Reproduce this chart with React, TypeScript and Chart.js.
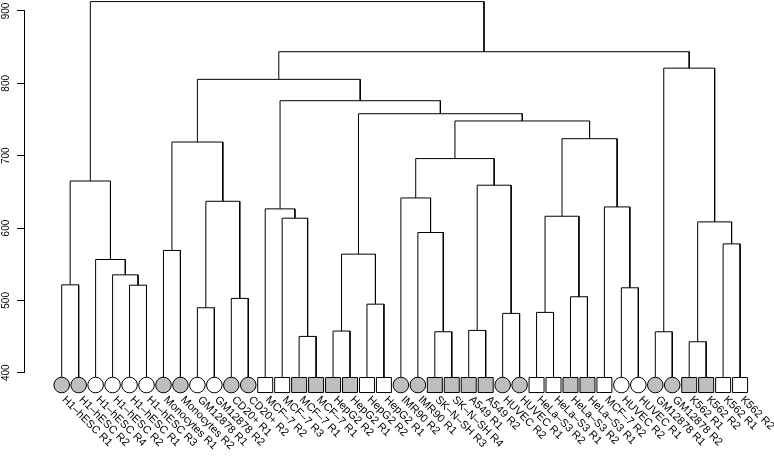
import React, { useEffect, useRef } from "react";
import { Chart, registerables } from "chart.js";

Chart.register(...registerables);

// Leaves in dendrogram order
const leafLabels = [
  "H1–hESC R1", "H1–hESC R2", "H1–hESC R4", "H1–hESC R2", "H1–hESC R1", "H1–hESC R3",
  "Monocytes R1", "Monocytes R2", "GM12878 R1", "GM12878 R2", "CD20+ R1", "CD20+ R2",
  "MCF–7 R2", "MCF–7 R3", "MCF–7 R1", "MCF–7 R1",
  "HepG2 R2", "HepG2 R1", "HepG2 R2", "HepG2 R1",
  "IMR90 R2", "IMR90 R1", "SK–N–SH R3", "SK–N–SH R4", "A549 R1", "A549 R2",
  "HUVEC R2", "HUVEC R1",
  "HeLa–S3 R2", "HeLa–S3 R1", "HeLa–S3 R2", "HeLa–S3 R1", "MCF–7 R2",
  "HUVEC R2", "HUVEC R1", "GM12878 R1", "GM12878 R2",
  "K562 R1", "K562 R2", "K562 R1", "K562 R2",
];
const leafShapes = [
  "circle", "circle", "circle", "circle", "circle", "circle",
  "circle", "circle", "circle", "circle", "circle", "circle",
  "rect", "rect", "rect", "rect",
  "rect", "rect", "rect", "rect",
  "circle", "circle", "rect", "rect", "rect", "rect",
  "circle", "circle",
  "rect", "rect", "rect", "rect", "rect",
  "circle", "circle", "circle", "circle",
  "rect", "rect", "rect", "rect",
];
const leafFills = [
  "gray", "gray", "white", "white", "white", "white",
  "gray", "gray", "white", "white", "gray", "gray",
  "white", "white", "gray", "gray",
  "gray", "gray", "white", "white",
  "gray", "gray", "gray", "gray", "gray", "gray",
  "gray", "gray",
  "white", "white", "gray", "gray", "white",
  "white", "white", "gray", "gray",
  "gray", "gray", "white", "white",
];

// hclust-style merges: negative = leaf (-(index+1)), positive = earlier merge (1-based)
const mergeLeft = [
  -1, -5, -4, -3, 1, -7, -9, -11, 7, 6,
  -15, -14, -13, -17, -19, 14, -23, -22, -21, -25,
  -27, 20, 19, -29, -31, 24, -34, -33, 26, 23,
  16, 13, 10, -36, -38, -40, 35, 34, 33, 5,
];
const mergeRight = [
  -2, -6, 2, 3, 4, -8, -10, -12, 8, 9,
  -16, 11, 12, -18, -20, 15, -24, 17, 18, -26,
  -28, 21, 22, -30, -32, 25, -35, 27, 28, 29,
  30, 31, 32, -37, -39, -41, 36, 37, 38, 39,
];
const mergeHeights = [
  521.5, 521, 535.3, 556.5, 665, 569, 489.8, 502.7, 637, 718.9,
  450.2, 613.6, 626.5, 457.6, 494.8, 563.9, 456.6, 593.8, 641.6, 458.5,
  482, 659.2, 696, 483.4, 505, 616.3, 517.4, 629.2, 723.5, 748,
  758, 776, 805.5, 456.6, 442.8, 578.1, 608.5, 821, 843.7, 913,
];

const yTicks = [400, 500, 600, 700, 800, 900];
const leafHeight = 383;

export default function App() {
  const ref = useRef<HTMLCanvasElement>(null);

  useEffect(() => {
    document.body.style.margin = "0";
    const canvas = ref.current;
    if (!canvas) return;

    const nodeX: number[] = [];
    const nodeH: number[] = [];
    const pos = (k: number) =>
      k < 0 ? { x: -k - 1, h: leafHeight } : { x: nodeX[k - 1], h: nodeH[k - 1] };

    const linkSets: any[] = [];
    for (let m = 0; m < mergeHeights.length; m++) {
      const l = pos(mergeLeft[m]);
      const r = pos(mergeRight[m]);
      const h = mergeHeights[m];
      nodeX[m] = (l.x + r.x) / 2;
      nodeH[m] = h;
      linkSets.push({
        type: "line",
        data: [
          { x: l.x, y: l.h },
          { x: l.x, y: h },
          { x: r.x, y: h },
          { x: r.x, y: r.h },
        ],
        borderColor: "#000",
        borderWidth: 1,
        pointRadius: 0,
        tension: 0,
        fill: false,
        clip: false,
        order: 2,
      });
    }

    const leafSet = {
      type: "line",
      data: leafLabels.map((_, i) => ({ x: i, y: leafHeight })),
      showLine: false,
      pointStyle: leafShapes,
      pointRadius: leafShapes.map((s) => (s === "circle" ? 7.8 : 10.6)),
      pointBackgroundColor: leafFills.map((f) => (f === "gray" ? "#BEBEBE" : "#FFFFFF")),
      pointBorderColor: "#000",
      pointBorderWidth: 1,
      clip: false,
      order: 0,
    };

    const labelPlugin = {
      id: "dendroText",
      afterDraw(chart: any) {
        const ctx = chart.ctx;
        const xs = chart.scales.x;
        const ys = chart.scales.y;
        ctx.save();
        // axis line from 400 to 900
        const ax = ys.right - 0.5;
        ctx.strokeStyle = "#000";
        ctx.lineWidth = 1;
        ctx.beginPath();
        ctx.moveTo(ax, ys.getPixelForValue(yTicks[0]));
        ctx.lineTo(ax, ys.getPixelForValue(yTicks[yTicks.length - 1]));
        ctx.stroke();
        // y tick labels, rotated
        ctx.fillStyle = "#000";
        ctx.font = "10px 'Liberation Sans', Arial, sans-serif";
        ctx.textAlign = "center";
        ctx.textBaseline = "alphabetic";
        for (const v of yTicks) {
          const y = ys.getPixelForValue(v);
          ctx.save();
          ctx.translate(8.5, y);
          ctx.rotate(-Math.PI / 2);
          ctx.fillText(String(v), 0, 0);
          ctx.restore();
        }
        // leaf labels
        ctx.font = "11px 'Liberation Sans', Arial, sans-serif";
        ctx.textAlign = "left";
        ctx.textBaseline = "middle";
        const ly = ys.getPixelForValue(leafHeight) + 13;
        leafLabels.forEach((lab, i) => {
          const x = xs.getPixelForValue(i);
          ctx.save();
          ctx.translate(x + 2, ly);
          ctx.rotate(Math.PI / 4);
          ctx.fillText(lab, 0, 0);
          ctx.restore();
        });
        ctx.restore();
      },
    };

    const chart = new Chart(canvas, {
      type: "line",
      data: { datasets: [leafSet, ...linkSets] as any },
      options: {
        animation: false,
        responsive: true,
        maintainAspectRatio: false,
        layout: { padding: 0, autoPadding: false },
        plugins: { legend: { display: false }, tooltip: { enabled: false } },
        scales: {
          x: { type: "linear", min: -2.164, max: 42.0, display: false },
          y: {
            type: "linear",
            min: 284.9,
            max: 915.2,
            afterFit: (s: any) => {
              s.width = 25;
            },
            afterBuildTicks: (s: any) => {
              s.ticks = yTicks.map((v) => ({ value: v }));
            },
            grid: {
              display: true,
              drawOnChartArea: false,
              drawTicks: true,
              tickLength: 8,
              color: "#000",
              lineWidth: 1,
            },
            border: { display: false },
            ticks: { display: false },
          },
        },
      },
      plugins: [labelPlugin],
    });
    return () => chart.destroy();
  }, []);

  return (
    <div style={{ position: "absolute", left: 0, top: 0, width: 774, height: 456 }}>
      <canvas ref={ref} />
    </div>
  );
}
